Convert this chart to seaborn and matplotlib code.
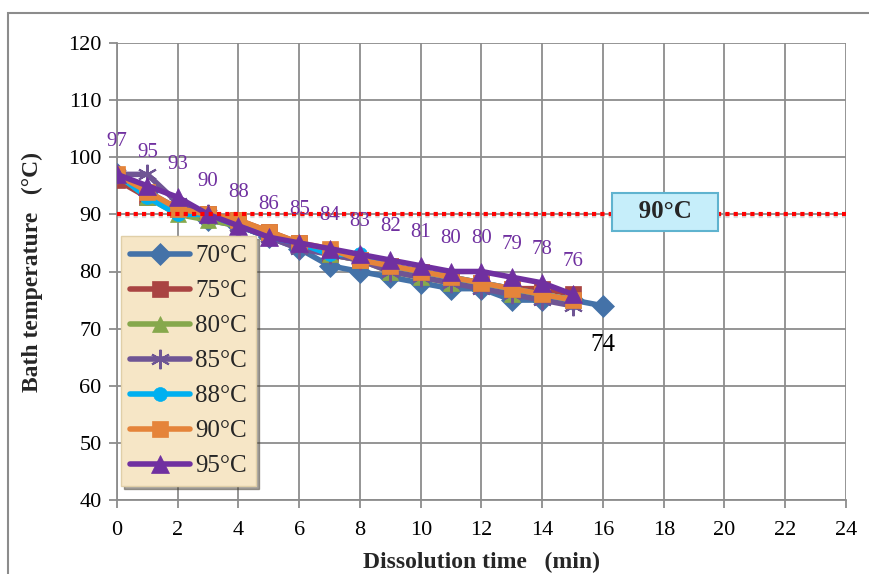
import matplotlib
matplotlib.use("Agg")
import matplotlib.pyplot as plt
import seaborn as sns
import pandas as pd
from matplotlib.patches import Rectangle

sns.set_theme(style="white")
plt.rcParams['font.family'] = ['Liberation Serif', 'DejaVu Serif']

series_names = ["70°C", "75°C", "80°C", "85°C", "88°C", "90°C", "95°C"]
t70 = list(range(0, 17))
t_other = list(range(0, 16))
v70 = [97, 94, 91, 89, 88, 86, 84, 81, 80, 79, 78, 77, 77, 75, 75, 75, 74]
v75 = [96, 93, 91, 90, 89, 87, 85, 83, 82, 81, 80, 79, 78, 77, 77, 76]
v80 = [97, 93, 90, 89, 88, 86, 85, 83, 82, 80, 79, 78, 78, 76, 76, 75]
v85 = [97, 97, 92, 90, 88, 86, 84, 83, 82, 80, 79, 78, 77, 76, 75, 74]
v88 = [97, 93, 90, 90, 88, 86, 85, 83, 83, 81, 80, 79, 78, 77, 76, 75]
v90 = [97, 94, 91, 90, 89, 87, 85, 84, 82, 81, 80, 79, 78, 77, 76, 75]
v95 = [97, 95, 93, 90, 88, 86, 85, 84, 83, 82, 81, 80, 80, 79, 78, 76]
values = [v70, v75, v80, v85, v88, v90, v95]
times = [t70] + [t_other] * 6
ref_temp = 90
x_ticks = list(range(0, 25, 2))
y_ticks = list(range(40, 121, 10))

colors = ["#4472A8", "#A94442", "#86A84C", "#6F5594", "#00B0F0", "#E5843A", "#7030A0"]
markers = ["D", "s", "^", (6, 2, 0), "o", "s", "^"]
msizes = [11, 11, 12, 14, 10, 11, 13]

fig = plt.figure(figsize=(8.69, 5.74), dpi=100)
fig.patches.append(Rectangle((8 / 869, -0.05), 1.1, 1.05 - 13 / 574, transform=fig.transFigure,
                             fill=False, edgecolor="#8c8c8c", linewidth=1.5))
ax = fig.add_axes([117 / 869, 1 - 500 / 574, (846 - 117) / 869, (500 - 43) / 574])

for name, tt, vv, c, m, ms in zip(series_names, times, values, colors, markers, msizes):
    df = pd.DataFrame({"t": tt, "v": vv})
    sns.lineplot(data=df, x="t", y="v", ax=ax, color=c, marker=m, markersize=ms,
                 linewidth=4, markeredgecolor=c, markeredgewidth=1.5 if m == (6, 2, 0) else 0.5,
                 label=name, zorder=3)

# reference line with light shadow
ax.axhline(ref_temp - 0.35, color="#bbbbbb", linestyle=(0, (1, 1)), linewidth=3, alpha=0.5, zorder=2)
ax.axhline(ref_temp, color="#ff0000", linestyle=(0, (1, 1)), linewidth=3, zorder=4)
ax.text(18.05, ref_temp + 0.5, "   90°C   ", ha="center", va="center", fontsize=18, fontweight="bold",
        zorder=6,
        bbox=dict(boxstyle="square,pad=0.3", facecolor="#c6eefa", edgecolor="#5fb3cf", linewidth=1.5))

# data labels for 95 series
for x, y in zip(t_other, v95):
    ax.annotate(str(y), (x, y), xytext=(0, 17), textcoords="offset points",
                ha="center", va="bottom", fontsize=15, color="#7030A0", zorder=5)
ax.annotate(str(v70[-1]), (t70[-1], v70[-1]), xytext=(0, -20), textcoords="offset points",
            ha="center", va="top", fontsize=18, color="black", zorder=5)

ax.set_xlim(0, 24)
ax.set_ylim(40, 120)
ax.set_xticks(x_ticks)
ax.set_yticks(y_ticks)
ax.grid(True, color="#8c8c8c", linewidth=1.3)
ax.set_axisbelow(True)
for s in ["top", "right"]:
    ax.spines[s].set_visible(False)
for s in ["left", "bottom"]:
    ax.spines[s].set_color("#8c8c8c")
    ax.spines[s].set_linewidth(1.3)
ax.tick_params(axis="both", direction="out", length=6, width=1.3, color="#8c8c8c",
               labelsize=16, labelcolor="black", pad=5, bottom=True, left=True)
ax.tick_params(axis="x", pad=9)
ax.set_xlabel("Dissolution time   (min)", fontsize=17, fontweight="bold", labelpad=9)
ax.set_ylabel("Bath temperature   (°C)", fontsize=17, fontweight="bold", labelpad=18)

leg = ax.legend(loc="upper left", bbox_to_anchor=(-0.011, 0.605), fontsize=18, frameon=True,
                fancybox=False, shadow=True, handlelength=2.4, handletextpad=0.2,
                labelspacing=0.5, borderpad=0.35)
leg.get_frame().set_facecolor("#f6e6c6")
leg.get_frame().set_edgecolor("#e0cfa8")
leg.set_zorder(7)

fig.savefig("out.png", dpi=100)
